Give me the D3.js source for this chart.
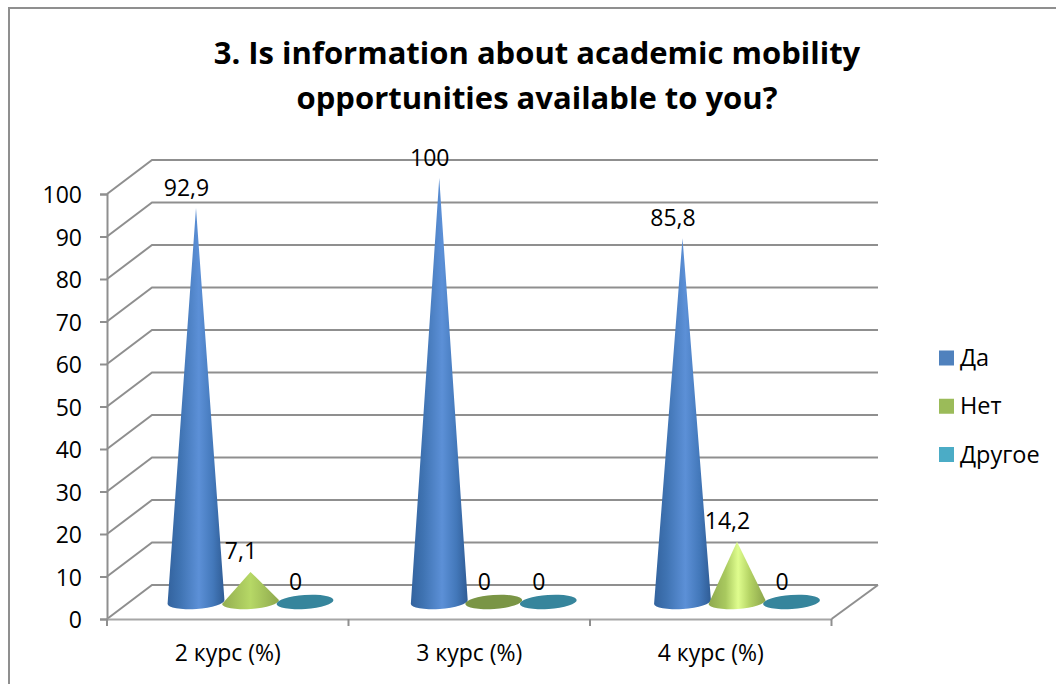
<!DOCTYPE html>
<html>
<head>
<meta charset="utf-8">
<script src="https://cdn.jsdelivr.net/npm/d3@7/dist/d3.min.js"></script>
<style>
html,body{margin:0;padding:0;background:#fff;overflow:hidden}
text{font-family:"Open Sans","Noto Sans",sans-serif;fill:#000}
</style>
</head>
<body>
<svg id="chart" width="1056" height="684"></svg>
<script>
// Survey results by study year
const categories = ["2 курс (%)", "3 курс (%)", "4 курс (%)"];
const seriesNames = ["Да", "Нет", "Другое"];
const da = [92.9, 100, 85.8];
const net = [7.1, 0, 14.2];
const drugoe = [0, 0, 0];
const valueLabels = [["92,9", "100", "85,8"], ["7,1", "0", "14,2"], ["0", "0", "0"]];
const yTicks = [0, 10, 20, 30, 40, 50, 60, 70, 80, 90, 100];
const titleLines = ["3. Is information about academic mobility", "opportunities available to you?"];
const legendColors = ["#4f81bd", "#9bbb59", "#4bacc6"];
const flatColors = ["#4f81bd", "#7a9545", "#36859c"];

const series = [da, net, drugoe];
const svg = d3.select("#chart");
const gridColor = "#8f8f8f";
const bodyFont = '"Open Sans","Noto Sans",sans-serif';

// Projection of the 3D box: the back wall is shifted from the front plane
const depthX = 45, depthY = -34;
const y = d3.scaleLinear().domain([0, 100]).range([619, 194]);
const x = d3.scaleBand().domain(categories).range([107, 831.5]);
// Cones stand on the mid-depth plane of the box
const coneX = d3.scalePoint().domain(categories).range([196, 682.5]);
const seriesX = d3.scalePoint().domain(d3.range(3)).range([0, 109]);
const coneY = d3.scaleLinear().domain([0, 100]).range([602, 178]);
const rx = 28.5, ry = 7, tilt = -4;

// Shading across each cone
const defs = svg.append("defs");
function shade(id, stops) {
  const g = defs.append("linearGradient").attr("id", id).attr("x1", 0).attr("x2", 1).attr("y1", 0).attr("y2", 0);
  stops.forEach(([o, c]) => g.append("stop").attr("offset", o).attr("stop-color", c));
}
shade("cone0", [[0, "#33639e"], [0.22, "#3f73b2"], [0.55, "#5c90d7"], [0.8, "#4378ba"], [1, "#2f5c95"]]);
shade("cone1", [[0, "#8ea84e"], [0.3, "#a9c95f"], [0.52, "#dffd8e"], [0.72, "#b5d465"], [1, "#8aa34a"]]);
shade("cone1short", [[0, "#93ad50"], [0.5, "#b6d866"], [1, "#8ea84d"]]);

// Chart frame
svg.append("path")
  .attr("d", d3.line()([[9, 684], [9, 8], [1056, 8]]))
  .attr("fill", "none").attr("stroke", gridColor).attr("stroke-width", 2);

// Title
svg.append("text").attr("text-anchor", "middle").attr("font-weight", 700).attr("font-size", 31)
  .selectAll("tspan").data(titleLines).join("tspan")
  .attr("x", 537).attr("y", (d, i) => 64 + i * 44.5).text(d => d);

// Gridlines on the left and back walls
const grid = svg.append("g").attr("fill", "none").attr("stroke", gridColor).attr("stroke-width", 2);
yTicks.forEach(t => {
  grid.append("path").attr("d", d3.line()([
    [x.range()[0], y(t)],
    [x.range()[0] + depthX, y(t) + depthY],
    [x.range()[1] + depthX + 1.5, y(t) + depthY]
  ]));
});
// Right edge of the floor
grid.append("path").attr("d", d3.line()([
  [x.range()[1], y(0)],
  [x.range()[1] + depthX + 1.5, y(0) + depthY]
]));

// Value axis
const yAxis = svg.append("g").attr("transform", `translate(${x.range()[0]},0)`)
  .call(d3.axisLeft(y).tickValues(yTicks).tickSize(7).tickPadding(18));
yAxis.selectAll("path,line").attr("stroke", gridColor).attr("stroke-width", 2);
yAxis.selectAll("text").attr("font-size", 23).attr("font-family", bodyFont).attr("dy", "0.38em");

// Category axis, with ticks on the band edges
const xAxis = svg.append("g").attr("transform", `translate(0,${y(0)})`)
  .call(d3.axisBottom(x).tickSize(0).tickPadding(26));
xAxis.select("path").attr("stroke", "#a6a6a6").attr("stroke-width", 2);
xAxis.selectAll("text").attr("font-size", 23).attr("font-family", bodyFont);
xAxis.selectAll(".edge").data([0, 1, 2, 3]).join("line").attr("class", "edge")
  .attr("x1", i => x.range()[0] + i * x.step()).attr("x2", i => x.range()[0] + i * x.step())
  .attr("y1", 0).attr("y2", 7).attr("stroke", gridColor).attr("stroke-width", 2);

// Cones, drawn series by series so that later ones sit on top
const rad = tilt * Math.PI / 180;
const cx = (c, s) => coneX(categories[c]) + seriesX(s);
const marks = svg.append("g");
series.forEach((vals, s) => {
  vals.forEach((v, c) => {
    const px = cx(c, s), base = coneY(0);
    if (v === 0) {
      marks.append("ellipse")
        .attr("cx", px).attr("cy", base).attr("rx", rx).attr("ry", ry)
        .attr("transform", `rotate(${tilt} ${px} ${base})`)
        .attr("fill", flatColors[s]);
      return;
    }
    const dx = rx * Math.cos(rad), dy = rx * Math.sin(rad);
    const fill = s === 0 ? "url(#cone0)" : (v < 10 ? "url(#cone1short)" : "url(#cone1)");
    marks.append("path")
      .attr("d", `M${px - dx},${base - dy}L${px},${coneY(v)}L${px + dx},${base + dy}A${rx},${ry} ${tilt} 0 1 ${px - dx},${base - dy}Z`)
      .attr("fill", fill);
  });
});

// Data labels
series.forEach((vals, s) => {
  vals.forEach((v, c) => {
    svg.append("text").attr("text-anchor", "middle").attr("font-size", 23)
      .attr("x", cx(c, s) - 9.5).attr("y", coneY(v) - 12.5)
      .text(valueLabels[s][c]);
  });
});

// Legend
const legendY = d3.scalePoint().domain(seriesNames).range([358, 454.5]);
const legend = svg.append("g");
seriesNames.forEach((name, i) => {
  legend.append("rect").attr("x", 939).attr("y", legendY(name) - 7.5).attr("width", 15).attr("height", 15).attr("fill", legendColors[i]);
  legend.append("text").attr("x", 960).attr("y", legendY(name) + 8).attr("font-size", 23.5).text(name);
});
</script>
</body>
</html>
